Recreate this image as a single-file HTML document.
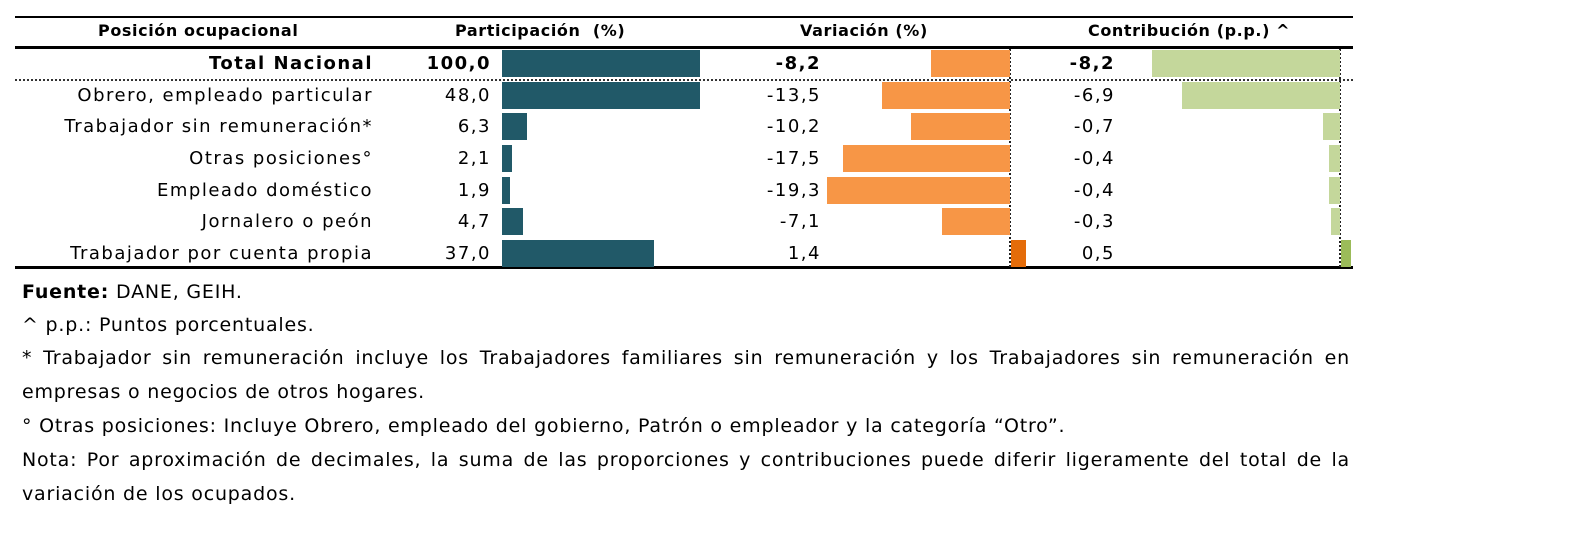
<!DOCTYPE html>
<html><head><meta charset="utf-8"><style>
body{margin:0;width:1574px;height:556px;background:#fff;position:relative;overflow:hidden;font-family:"DejaVu Sans","Liberation Sans",sans-serif;color:#000}
.a{position:absolute}
.h{font-weight:bold;font-size:16px;top:21px;letter-spacing:0.6px;white-space:nowrap}
.t{font-size:18px;white-space:nowrap;letter-spacing:1.5px}
.r{text-align:right}
.b{position:absolute}
.fn{position:absolute;left:22px;width:1328px;font-size:19px;letter-spacing:0.8px;line-height:33.5px;white-space:nowrap}
.j{text-align:justify;text-align-last:justify;white-space:normal}
</style></head><body>
<div class="a" style="left:15px;top:16px;width:1338px;height:2px;background:#000"></div>
<div class="a" style="left:15px;top:46px;width:1338px;height:3px;background:#000"></div>
<div class="a" style="left:15px;top:79px;width:1338px;border-top:2px dotted #333"></div>
<div class="a" style="left:15px;top:266px;width:1338px;height:3px;background:#000"></div>
<div class="a" style="left:1009px;top:49px;height:218px;border-left:2px dotted #222"></div>
<div class="a" style="left:1339px;top:49px;height:218px;border-left:2px dotted #222"></div>

<div class="a h" style="left:98px">Posición ocupacional</div>
<div class="a h" style="left:455px">Participación&nbsp; (%)</div>
<div class="a h" style="left:800px">Variación (%)</div>
<div class="a h" style="left:1088px">Contribución (p.p.) ^</div>

<div id="rows"></div>
<script>
var rows=[["Total Nacional","100,0",198,"-8,2",-79,"-8,2",-188,1],
["Obrero, empleado particular","48,0",198,"-13,5",-128,"-6,9",-158,0],
["Trabajador sin remuneración*","6,3",25,"-10,2",-99,"-0,7",-17,0],
["Otras posiciones°","2,1",10,"-17,5",-167,"-0,4",-11,0],
["Empleado doméstico","1,9",8,"-19,3",-183,"-0,4",-11,0],
["Jornalero o peón","4,7",21,"-7,1",-68,"-0,3",-9,0],
["Trabajador por cuenta propia","37,0",152,"1,4",15,"0,5",10,0]];
var tops=[50,82,113,145,177,208,240],h="";
rows.forEach(function(r,i){var y=tops[i],fw=r[7]?"font-weight:bold;":"";var ty=y+3;
h+='<div class="a t r" style="'+fw+'right:1201px;top:'+ty+'px">'+r[0]+'</div>';
h+='<div class="a t r" style="'+fw+'right:1083px;top:'+ty+'px">'+r[1]+'</div>';
h+='<div class="b" style="left:502px;top:'+y+'px;width:'+r[2]+'px;height:27px;background:#215968"></div>';
h+='<div class="a t r" style="'+fw+'right:753px;top:'+ty+'px">'+r[3]+'</div>';
var w=Math.abs(r[4]);h+='<div class="b" style="left:'+(r[4]<0?1010-w:1011)+'px;top:'+y+'px;width:'+w+'px;height:27px;background:'+(r[4]<0?'#f79646':'#e46c0a')+'"></div>';
h+='<div class="a t r" style="'+fw+'right:459px;top:'+ty+'px">'+r[5]+'</div>';
w=Math.abs(r[6]);h+='<div class="b" style="left:'+(r[6]<0?1340-w:1341)+'px;top:'+y+'px;width:'+w+'px;height:27px;background:'+(r[6]<0?'#c4d79b':'#9bbb59')+'"></div>';
});
document.getElementById('rows').innerHTML=h;
</script>
<div class="fn" style="top:276px"><b>Fuente:</b> DANE, GEIH.</div>
<div class="fn" style="top:309px">^ p.p.: Puntos porcentuales.</div>
<div class="fn j" style="top:342px">* Trabajador sin remuneración incluye los Trabajadores familiares sin remuneración y los Trabajadores sin remuneración en</div>
<div class="fn" style="top:376px">empresas o negocios de otros hogares.</div>
<div class="fn" style="top:410px">° Otras posiciones: Incluye Obrero, empleado del gobierno, Patrón o empleador y la categoría “Otro”.</div>
<div class="fn j" style="top:444px">Nota: Por aproximación de decimales, la suma de las proporciones y contribuciones puede diferir ligeramente del total de la</div>
<div class="fn" style="top:478px">variación de los ocupados.</div>
</body></html>
